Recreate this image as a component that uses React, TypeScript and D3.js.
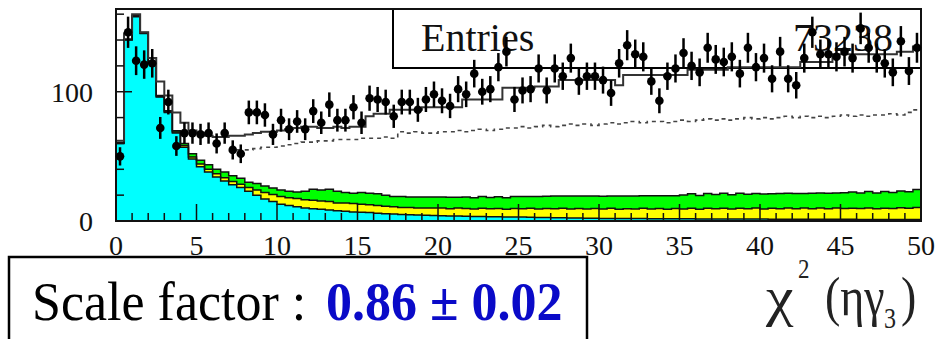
import React from "react";
import * as d3 from "d3";

// ---------- data (bins of width 0.5 from 0 to 50) ----------
const binWidth = 0.5;

const signal = [
  60, 140, 158, 145, 122, 96, 84, 68, 57, 48,
  42, 38, 34, 31, 28, 26, 23, 20, 17, 15,
  13, 12, 11, 10, 9.5, 9, 8.5, 8, 7.5, 7,
  6.8, 6.5, 6, 5.7, 5.4, 5, 4.8, 4.6, 4.4, 4.2,
  4, 3.9, 3.8, 3.6, 3.5, 3.4, 3.3, 3.2, 3.1, 3,
  3, 2.9, 2.8, 2.7, 2.6, 2.5, 2.4, 2.3, 2.2, 2.1,
  2, 2, 2, 1.9, 1.9, 1.9, 1.8, 1.8, 1.8, 1.7,
  1.7, 1.7, 1.6, 1.6, 1.6, 1.6, 1.5, 1.5, 1.5, 1.5,
  1.5, 1.4, 1.4, 1.4, 1.4, 1.4, 1.3, 1.3, 1.3, 1.3,
  1.3, 1.3, 1.2, 1.2, 1.2, 1.2, 1.2, 1.2, 1.2, 1.2,
];

const bkgYellow = [
  0.3, 0.3, 0.3, 0.3, 0.3, 0.4, 0.5, 0.8, 1.5, 1.5,
  2, 2, 2.5, 2.5, 2.5, 2.5, 3, 4, 5, 5.5,
  6, 6, 6.5, 6.5, 6.5, 6.5, 6.5, 6, 6.5, 6.5,
  6.2, 6, 6, 5.8, 5.6, 5.5, 5.7, 5.4, 5.6, 5.8,
  6.0, 5.6, 6.3, 6.0, 5.8, 6.4, 6.2, 6.5, 6.0, 6.6,
  6.5, 6.9, 6.4, 7.0, 6.8, 7.3, 6.9, 7.4, 7.0, 7.5,
  7.2, 7.8, 7.0, 7.6, 7.3, 7.9, 7.4, 7.8, 7.2, 8.0,
  7.6, 8.1, 7.5, 8.2, 7.9, 8.3, 7.7, 8.4, 8.0, 8.5,
  7.8, 8.4, 8.1, 8.6, 8.0, 8.6, 8.2, 8.7, 8.1, 8.8,
  8.3, 8.6, 8.4, 8.9, 8.2, 8.7, 8.5, 9.0, 8.6, 9.2,
];

const bkgGreen = [
  0.5, 0.5, 0.5, 0.5, 0.5, 0.6, 0.8, 1.0, 1.5, 2.5,
  3, 3.5, 3.5, 4.5, 4.5, 4.5, 4, 5, 5, 5,
  5, 5, 5, 6.5, 8.5, 8.5, 9.5, 9, 8, 8,
  9, 9, 9, 8.5, 8, 8.5, 8, 8.5, 8.5, 8.5,
  8.5, 8.8, 8.3, 9.0, 8.7, 9.2, 8.6, 9.1, 8.8, 9.4,
  9.5, 9.2, 9.8, 9.4, 10.0, 9.6, 10.1, 9.7, 10.2, 9.8,
  10.0, 9.6, 10.3, 9.8, 10.2, 9.7, 10.4, 10.0, 10.5, 9.9,
  10.8, 11.2, 10.6, 11.4, 11.0, 11.5, 11.1, 11.6, 11.2, 11.3,
  11.5, 11.2, 11.8, 11.4, 11.9, 11.3, 12.0, 11.6, 12.1, 11.5,
  12.2, 12.6, 12.0, 12.8, 12.3, 12.9, 12.4, 13.0, 12.8, 14.0,
];

const mcTotal = [
  62, 145, 160, 146, 126, 108, 97, 84, 76, 70,
  68, 66, 65, 65, 66, 66, 67, 68, 69, 69,
  70, 71, 72, 73, 73, 72, 72, 73, 72, 73,
  73, 81, 83, 83, 86, 86, 86, 86, 88, 88,
  88, 88, 88, 94, 94, 94, 94, 94, 103, 103,
  103, 103, 104, 104, 104, 109, 109, 109, 109, 109,
  109, 109, 105, 113, 113, 113, 113, 113, 113, 113,
  113, 117, 117, 117, 117, 117, 119, 119, 119, 119,
  119, 119, 119, 119, 119, 123, 123, 123, 123, 129,
  129, 129, 129, 129, 129, 129, 129, 131, 131, 135,
];

const mcDashed: (number | null)[] = [
  null, null, null, null, null, null, null, null, null, null,
  null, null, null, null, null, 55, 55, 56, 57, 57,
  58, 59, 60, 61, 61, 62, 62, 63, 63, 63,
  64, 64, 64, 65, 64, 69, 68, 69, 68, 68,
  69, 69, 70, 69, 70, 71, 70, 71, 72, 72,
  73, 72, 73, 74, 73, 74, 75, 74, 75, 74,
  75, 76, 75, 76, 77, 76, 77, 77, 76, 77,
  78, 77, 78, 79, 78, 79, 78, 79, 80, 79,
  80, 79, 80, 81, 80, 81, 80, 81, 80, 81,
  82, 81, 82, 81, 82, 82, 83, 82, 84, 86,
];

const dataCounts = [
  50, 146, 124, 121, 122, 72, 92, 58, 68, 68,
  67, 68, 60, 68, 55, 52, 84, 84, 82, 67,
  78, 71, 77, 71, 85, 76, 90, 78, 78, 88,
  76, 95, 94, 92, 81, 92, 92, 86, 94, 98,
  93, 89, 102, 98, 114, 100, 102, 119, 131, 94,
  101, 102, 118, 101, 118, 112, 126, 108, 112, 112,
  109, 99, 122, 136, 129, 127, 108, 93, 112, 118,
  130, 120, 115, 134, 125, 123, 127, 114, 134, 119,
  126, 110, 131, 110, 105, 126, 146, 129, 129, 127,
  131, 126, 149, 134, 126, 122, 115, 139, 116, 134,
];

const xTickLabels = [0, 5, 10, 15, 20, 25, 30, 35, 40, 45, 50];
const xMinorTicks = d3.range(0, 51, 1);
const yTickLabels = [0, 100];
const yMinorTicks = [0, 20, 40, 60, 80, 100, 120, 140, 160];
const entriesLabel = "Entries";
const entriesValue = "73238";
const scaleLabel = "Scale factor :";
const scaleValue = "0.86 \u00b1 0.02";

// ---------- layout ----------
const W = 935;
const H = 339;
const serif = "'Liberation Serif', 'Times New Roman', Times, serif";

export default function App() {
  const x = d3.scaleLinear().domain([0, 50]).range([116, 921]);
  const y = d3.scaleLinear().domain([0, 164]).range([221, 9]);

  const n = signal.length;
  const cumY = signal.map((s, i) => s + bkgYellow[i]);
  const cumG = cumY.map((s, i) => s + bkgGreen[i]);

  type P = { e: number; lo: number; hi: number | null };
  const pts = (lo: number[], hi: (number | null)[]): P[] => {
    const a: P[] = hi.map((h, i) => ({ e: i * binWidth, lo: lo[i], hi: h }));
    a.push({ e: n * binWidth, lo: lo[n - 1], hi: hi[n - 1] });
    return a;
  };
  const zeros = signal.map(() => 0);

  const area = d3
    .area<P>()
    .curve(d3.curveStepAfter)
    .x((d) => x(d.e))
    .y0((d) => y(d.lo))
    .y1((d) => y(d.hi as number));
  const line = d3
    .line<P>()
    .curve(d3.curveStepAfter)
    .defined((d) => d.hi !== null)
    .x((d) => x(d.e))
    .y((d) => y(d.hi as number));

  return (
    <svg
      width={W}
      height={H}
      style={{ position: "absolute", left: 0, top: 0, background: "#fff" }}
    >
      {/* stats box */}
      <rect x={393} y={9} width={528} height={59} fill="#fff" stroke="#000" strokeWidth={2} />
      <text x={421} y={51} fontFamily={serif} fontSize={40} fill="#111">
        {entriesLabel}
      </text>
      <text x={893} y={51} fontFamily={serif} fontSize={40} fill="#111" textAnchor="end">
        {entriesValue}
      </text>

      {/* stacked histograms */}
      <path d={area(pts(zeros, signal)) || ""} fill="#00FFFF" />
      <path d={area(pts(signal, cumY)) || ""} fill="#FFFF00" />
      <path d={area(pts(cumY, cumG)) || ""} fill="#00FF00" />
      <path d={line(pts(zeros, signal)) || ""} fill="none" stroke="#111" strokeWidth={1.5} />
      <path d={line(pts(zeros, cumY)) || ""} fill="none" stroke="#111" strokeWidth={1.5} />
      <path d={line(pts(zeros, cumG)) || ""} fill="none" stroke="#111" strokeWidth={1.5} />

      {/* MC total and dashed component */}
      <path d={line(pts(zeros, mcTotal)) || ""} fill="none" stroke="#333" strokeWidth={2} />
      <path
        d={line(pts(zeros, mcDashed)) || ""}
        fill="none"
        stroke="#444"
        strokeWidth={1.6}
        strokeDasharray="4,4"
      />

      {/* ticks */}
      {xMinorTicks.map((t) => (
        <line
          key={"xt" + t}
          x1={x(t)}
          x2={x(t)}
          y1={221}
          y2={t % 5 === 0 ? 204 : 213}
          stroke="#111"
          strokeWidth={1.5}
        />
      ))}
      {yMinorTicks.map((t) => (
        <line
          key={"yt" + t}
          x1={116}
          x2={t % 100 === 0 ? 132 : 124}
          y1={y(t)}
          y2={y(t)}
          stroke="#111"
          strokeWidth={1.5}
        />
      ))}

      {/* frame */}
      <rect x={116} y={9} width={805} height={212} fill="none" stroke="#111" strokeWidth={2} />

      {/* data points */}
      {dataCounts.map((v, i) => {
        const cx = x((i + 0.5) * binWidth);
        const err = Math.sqrt(v);
        return (
          <g key={"d" + i}>
            <line x1={cx} x2={cx} y1={y(v - err)} y2={y(v + err)} stroke="#000" strokeWidth={2.5} />
            <circle cx={cx} cy={y(v)} r={4.3} fill="#000" />
          </g>
        );
      })}

      {/* tick labels */}
      {xTickLabels.map((t) => (
        <text
          key={"xl" + t}
          x={x(t)}
          y={255}
          fontFamily={serif}
          fontSize={28}
          fill="#111"
          textAnchor="middle"
        >
          {t}
        </text>
      ))}
      {yTickLabels.map((t) => (
        <text
          key={"yl" + t}
          x={93}
          y={y(t) + 10}
          fontFamily={serif}
          fontSize={28}
          fill="#111"
          textAnchor="end"
        >
          {t}
        </text>
      ))}

      {/* axis title */}
      <g transform="translate(766,315) scale(1,1.2)" fontFamily={serif} fill="#222">
        <text x={0} y={0} fontSize={46} transform="scale(1.35,1)">
          {"\u03c7"}
        </text>
        <text x={32} y={-31} fontSize={23}>
          2
        </text>
        <text x={59} y={0} fontSize={46}>
          {"(\u03b7\u03b3"}
        </text>
        <text x={118} y={11} fontSize={24}>
          3
        </text>
        <text x={135} y={0} fontSize={46}>
          )
        </text>
      </g>

      {/* scale factor box */}
      <rect x={9} y={257} width={578} height={100} fill="none" stroke="#000" strokeWidth={2.5} />
      <g transform="translate(0,320) scale(1,1.07)">
        <text x={32} y={0} fontFamily={serif} fontSize={52} fill="#000">
          {scaleLabel}
        </text>
        <text x={326} y={0} fontFamily={serif} fontSize={52} fontWeight="bold" fill="#0A0AC8">
          {scaleValue}
        </text>
      </g>
    </svg>
  );
}
